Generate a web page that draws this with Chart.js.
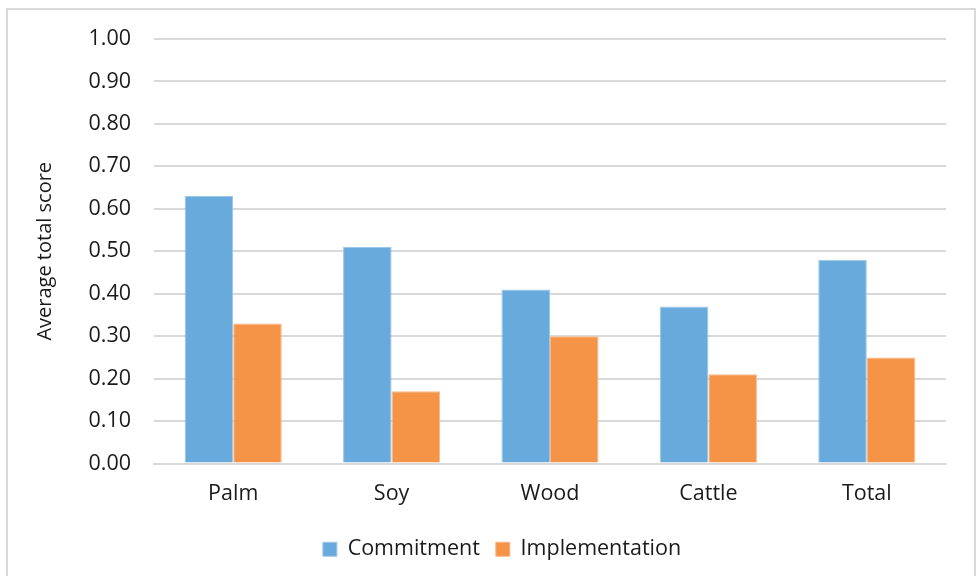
<!DOCTYPE html>
<html>
<head>
<meta charset="utf-8">
<script src="https://cdn.jsdelivr.net/npm/chart.js@4"></script>
<style>
  body { margin: 0; background: #fff; }
  #frame {
    position: absolute; left: 6px; top: 8px; width: 966px; height: 580px;
    border: 2px solid #d9d9d9; border-bottom: none;
  }
  #wrap { position: absolute; left: 0; top: 0; width: 976px; height: 576px; }
</style>
</head>
<body>
<div id="frame"></div>
<div id="wrap"><canvas id="scoreChart" width="976" height="576"></canvas></div>
<script>
// average scores per commodity
const commodities = ["Palm", "Soy", "Wood", "Cattle", "Total"];
const commitment = [0.63, 0.51, 0.41, 0.37, 0.48];
const implementation = [0.33, 0.17, 0.30, 0.21, 0.25];

const font = "'Open Sans', 'Noto Sans', sans-serif";
Chart.defaults.font.family = font;
Chart.defaults.font.size = 21.5;
Chart.defaults.color = "#1a1a1a";

// nudge the legend a bit right of the canvas centre
const legendShift = {
  id: "legendShift",
  afterLayout(chart) {
    chart.legend.left += 29;
    chart.legend.right += 29;
  }
};

const ctx = document.getElementById("scoreChart").getContext("2d");

new Chart(ctx, {
  type: "bar",
  data: {
    labels: commodities,
    datasets: [
      {
        label: "Commitment",
        data: commitment,
        backgroundColor: "#69aadc",
        borderColor: "#9cc7ea",
        borderWidth: 1
      },
      {
        label: "Implementation",
        data: implementation,
        backgroundColor: "#f59447",
        borderColor: "#f8b887",
        borderWidth: 1
      }
    ]
  },
  plugins: [legendShift],
  options: {
    responsive: false,
    animation: false,
    layout: { padding: { top: 39, right: 30, left: 0, bottom: 6 } },
    datasets: {
      bar: { categoryPercentage: 0.613, barPercentage: 1.0 }
    },
    scales: {
      x: {
        grid: { display: false },
        border: { display: true, color: "#d9d9d9", width: 2 },
        ticks: { padding: 9, font: { size: 21.5 } },
        afterFit(scale) { scale.height = 59; }
      },
      y: {
        min: 0,
        max: 1,
        ticks: {
          stepSize: 0.1,
          padding: 23,
          font: { size: 21.5 },
          callback: v => v.toFixed(2)
        },
        grid: { color: "#d9d9d9", lineWidth: 2, drawTicks: false },
        border: { display: false },
        title: {
          display: true,
          text: "Average total score",
          font: { size: 20 },
          padding: { top: 33, bottom: 0 }
        },
        afterFit(scale) { scale.width = 154; }
      }
    },
    plugins: {
      tooltip: { enabled: false },
      legend: {
        position: "bottom",
        labels: {
          boxWidth: 14,
          boxHeight: 14,
          padding: 16,
          font: { size: 21.5 },
          color: "#1a1a1a"
        }
      }
    }
  }
});
</script>
</body>
</html>
